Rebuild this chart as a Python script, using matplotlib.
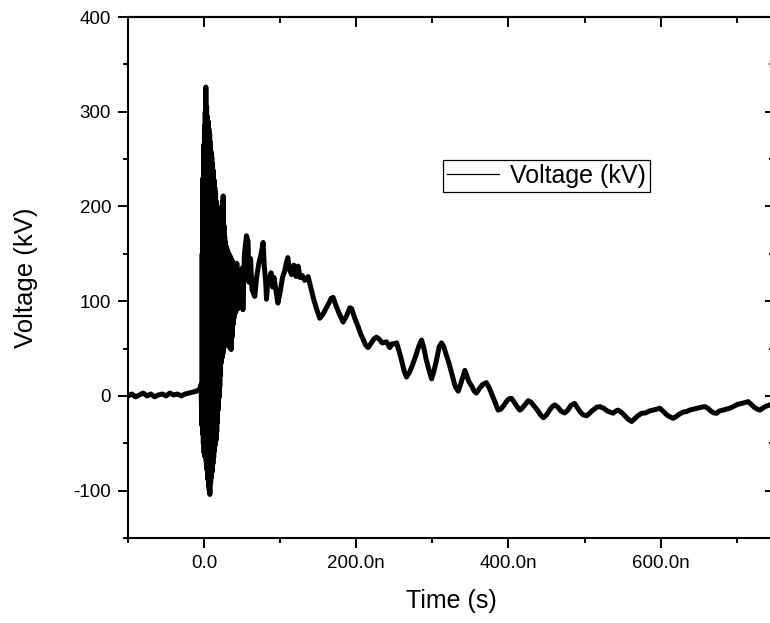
import numpy as np
import matplotlib
matplotlib.use("Agg")
import matplotlib.pyplot as plt
from matplotlib.lines import Line2D
from matplotlib.ticker import FixedLocator, FuncFormatter

plt.rcParams['font.family'] = ['Liberation Sans', 'DejaVu Sans']
plt.rcParams['axes.unicode_minus'] = False

# === Данные (время в нс, напряжение в кВ) ===
# базовая линия до импульса
t_base = [-100, -95, -90, -85, -80, -75, -70, -65, -60, -55, -50, -45, -40,
          -35, -30, -25, -20, -15, -10, -6, -4]
v_base = [0, 2, -1, 1, 3, 0, 2, -1, 1, 2, 0, 3, 1,
          2, 0, 2, 3, 4, 5, 7, 12]

# высокочастотный всплеск (экстремумы по очереди)
t_burst = [-3, -2.5, -2, -1.5, -1, -0.5, 0, 0.5, 1, 1.5, 2, 2.3, 2.8, 3.3, 3.8,
           4.3, 4.8, 5.3, 5.8, 6.3, 6.8, 7.3, 7.6, 8.1, 8.6, 9.1, 9.6, 10.1,
           10.6, 11.1, 11.6, 12.1, 12.6, 13.1, 13.6, 14.1, 14.6, 15.1, 15.6,
           16.1, 16.6, 17.1, 17.6, 18.1, 18.6, 19.1, 19.6, 20.1, 20.6, 21.1,
           21.6, 22.1, 22.6, 23.1, 23.6, 24.1, 24.6, 25.1, 25.6, 26.1, 26.6,
           27.1, 27.6, 28.1, 28.6, 29.1, 29.6, 30.2, 30.8, 31.4, 32, 32.6,
           33.2, 33.8, 34.4, 35, 35.6, 36.2, 36.8, 37.4, 38, 38.6, 39.2]
v_burst = [-31, 150, -40, 230, -50, 265, -60, 285, -64, 300, -62, 326, -70, 305, -78,
           295, -88, 290, -95, 282, -100, 276, -104, 268, -92, 258, -86, 252,
           -80, 245, -72, 238, -65, 228, -58, 220, -52, 214, -47,
           205, -38, 195, -28, 186, -15, 178, -2, 172, 10, 180,
           22, 192, 35, 200, 40, 205, 44, 211, 48, 180, 52,
           168, 56, 162, 58, 158, 60, 155, 56, 152, 54, 150,
           52, 148, 50, 146, 49, 144, 62, 142, 75, 140, 82]

# спад
t_decay = [40, 41.5, 43, 44.5, 46, 48, 50, 51, 53, 55.7, 57.8, 59, 61, 63, 66.6,
           69, 72, 75, 77.6, 79, 81, 82, 84, 86, 88, 90, 92, 95, 97, 100, 103,
           106, 108, 110, 112, 115, 118, 121, 123.6, 126, 129, 132, 134.6,
           136.7, 140, 144, 147.8, 152, 156, 160, 164, 167, 169.6, 173, 177,
           182.7, 187, 191.5, 194, 198, 202, 206, 209, 212, 215.6, 219, 223,
           226.6, 230, 234, 239.8, 244, 247, 250.7, 253, 256, 260, 263, 266,
           270, 274, 278, 282, 285.8, 289, 292, 296, 299, 302, 306, 309, 312,
           315, 318, 322, 326, 330, 334, 337, 340, 342.7, 345, 348, 352, 355,
           358, 362, 366, 371, 375, 379, 383, 386.5, 390, 394, 398, 401, 404,
           407, 411, 415, 418, 422, 426, 430, 434, 438, 442, 446, 450, 454,
           458, 461, 465, 469, 474, 478, 482, 487, 491, 494, 498, 502.7, 507,
           511, 516, 520, 525, 530, 537.6, 541, 544, 548, 553, 558, 561.8,
           566, 570, 575, 580, 585, 590, 595, 599, 603, 608, 612, 616.5, 620,
           625, 630, 634, 638, 643, 648, 653, 658, 662, 666, 670, 673.6, 677,
           682, 686, 691, 696, 701, 706, 711, 715, 719, 723, 727, 730.5, 734,
           738, 743.6, 748, 750]
v_decay = [135, 88, 140, 92, 128, 98, 135, 91, 150, 169, 163, 120, 145, 112, 105,
           125, 140, 150, 162, 138, 120, 102, 125, 119, 130, 115, 125, 108, 98, 110, 125,
           132, 140, 146, 134, 128, 138, 126, 137, 125, 127, 122, 124,
           126, 115, 102, 92, 82, 86, 92, 98, 103, 104, 96, 88,
           78, 84, 93, 92, 82, 74, 65, 60, 54, 51, 55, 60,
           62, 60, 56, 57, 51, 55, 55, 56, 48, 36, 26, 20,
           25, 33, 42, 52, 59, 50, 38, 26, 18, 26, 40, 52, 56,
           52, 44, 34, 22, 10, 5, 12, 20, 27, 22, 15, 10, 5,
           3, 8, 12, 14, 8, 0, -8, -15, -14, -10, -5, -3, -2.5,
           -6, -11, -15, -13, -9, -5, -7, -11, -15, -20, -23, -20, -15,
           -11, -9.5, -12, -16, -18, -15, -10, -8, -13, -16.6, -20, -21, -18,
           -15, -12, -11.3, -13, -16, -18.3, -16, -15, -17, -21, -25, -27,
           -24, -21, -18.3, -18, -16, -15, -14, -13, -16, -20, -22, -23.6, -22,
           -19, -17, -16.6, -15, -14, -13, -12, -11.3, -13, -16, -18, -18.3, -16,
           -15, -14, -13, -11, -9, -8, -7, -6, -9, -12, -14, -15, -13,
           -11, -9.5, -10, -11]

x_major = [0, 200, 400, 600]
x_minor = [-100, 100, 300, 500, 700]
y_major = [-100, 0, 100, 200, 300, 400]
y_minor = [-150, -50, 50, 150, 250, 350]

t_ns = np.array(t_base + t_burst + t_decay)
v_kv = np.array(v_base + v_burst + v_decay)

# === График ===
fig = plt.figure(figsize=(7.7, 6.23), dpi=100)
ax = fig.add_axes([0.16623, 0.13644, 0.84, 0.83627])

ax.plot(t_ns, v_kv, color="black", lw=3.6, solid_joinstyle="round",
        solid_capstyle="round")
ax.set_xlim(-100, 750)
ax.set_ylim(-150, 400)


def fmt_ns(v, pos):
    if abs(v) < 1e-9:
        return "0.0"
    return f"{v:.1f}n"


ax.xaxis.set_major_locator(FixedLocator(x_major))
ax.xaxis.set_minor_locator(FixedLocator(x_minor))
ax.xaxis.set_major_formatter(FuncFormatter(fmt_ns))
ax.yaxis.set_major_locator(FixedLocator(y_major))
ax.yaxis.set_minor_locator(FixedLocator(y_minor))

for s in ax.spines.values():
    s.set_linewidth(1.5)

ax.tick_params(which="both", direction="out", width=1.4, labelsize=13.5, pad=5,
               top=False, right=False)
ax.tick_params(which="major", length=7.2)
ax.tick_params(which="minor", length=3.6)

# верхняя и правая оси: засечки внутрь, без подписей
top = ax.secondary_xaxis("top")
top.xaxis.set_major_locator(FixedLocator(x_major))
top.xaxis.set_minor_locator(FixedLocator(x_minor))
top.tick_params(which="both", direction="in", width=1.4, labeltop=False)
top.tick_params(which="major", length=7.2)
top.tick_params(which="minor", length=4)
top.spines["top"].set_linewidth(1.5)

right = ax.secondary_yaxis("right")
right.yaxis.set_major_locator(FixedLocator(y_major))
right.yaxis.set_minor_locator(FixedLocator(y_minor))
right.tick_params(which="both", direction="in", width=1.4, labelright=False)
right.tick_params(which="major", length=7.2)
right.tick_params(which="minor", length=4)

ax.set_xlabel("Time (s)", fontsize=18)
ax.set_ylabel("Voltage (kV)", fontsize=18.5)
ax.xaxis.set_label_coords(0.5, -0.098)
ax.yaxis.set_label_coords(-0.139, 0.5)

handle = Line2D([], [], color="black", lw=0.9)
leg = ax.legend([handle], ["Voltage (kV)"], loc="upper left",
                bbox_to_anchor=(443 / 770, 1 - 160 / 623),
                bbox_transform=fig.transFigure, borderaxespad=0,
                borderpad=0.15, handlelength=2.1, handletextpad=0.45,
                fontsize=18, fancybox=False, framealpha=1, edgecolor="black")
leg.get_frame().set_linewidth(0.9)

plt.savefig("out.png", dpi=100)
plt.close()
